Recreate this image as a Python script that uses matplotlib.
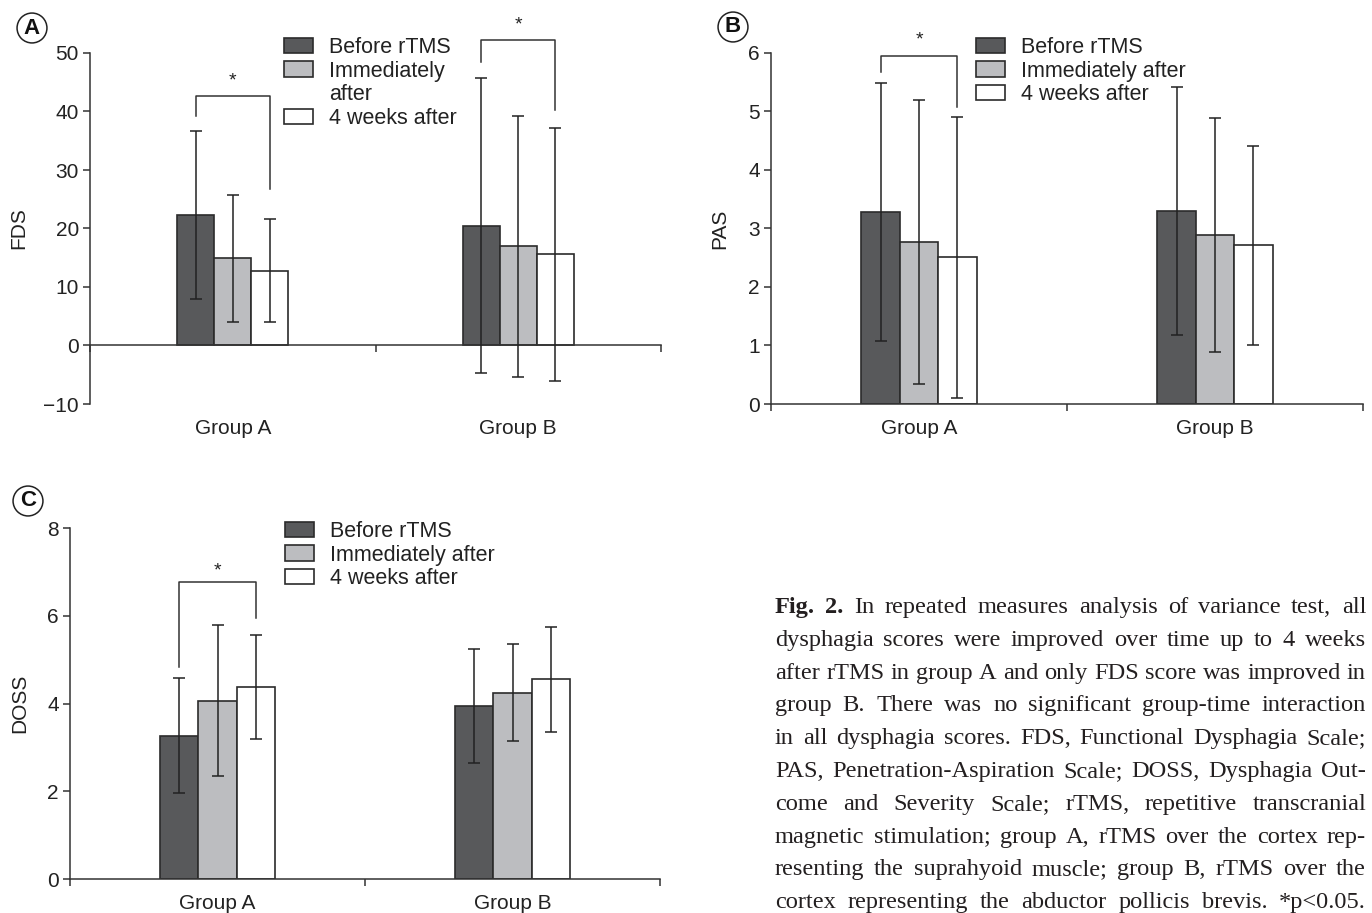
import numpy as np
import matplotlib
matplotlib.use('Agg')
import matplotlib.pyplot as plt
from matplotlib.patches import Rectangle

plt.rcParams['font.family'] = ['Liberation Sans', 'DejaVu Sans']

W, H = 1372, 913

# data (mean, SD)
conditions = ['Before rTMS', 'Immediately after', '4 weeks after']
groups = ['Group A', 'Group B']

fds_a = [22.3, 14.9, 12.8]
fds_a_sd = [14.4, 10.8, 8.8]
fds_b = [20.5, 17.0, 15.6]
fds_b_sd = [25.2, 22.3, 21.6]

pas_a = [3.28, 2.77, 2.51]
pas_a_sd = [2.20, 2.42, 2.40]
pas_b = [3.30, 2.88, 2.71]
pas_b_sd = [2.12, 2.00, 1.70]

doss_a = [3.26, 4.06, 4.37]
doss_a_sd = [1.31, 1.72, 1.19]
doss_b = [3.95, 4.25, 4.55]
doss_b_sd = [1.30, 1.10, 1.20]

# significance brackets: (group index, top, left leg end, right leg end)
fds_sig = [(0, 42.7, 39.2, 26.8), (1, 52.2, 48.4, 40.3)]
pas_sig = [(0, 5.94, 5.67, 5.08)]
doss_sig = [(0, 6.76, 4.83, 5.96)]

caption = [
    "Fig. 2. In repeated measures analysis of variance test, all",
    "dysphagia scores were improved over time up to 4 weeks",
    "after rTMS in group A and only FDS score was improved in",
    "group B. There was no significant group-time interaction",
    "in all dysphagia scores. FDS, Functional Dysphagia Scale;",
    "PAS, Penetration-Aspiration Scale; DOSS, Dysphagia Out-",
    "come and Severity Scale; rTMS, repetitive transcranial",
    "magnetic stimulation; group A, rTMS over the cortex rep-",
    "resenting the suprahyoid muscle; group B, rTMS over the",
    "cortex representing the abductor pollicis brevis. *p<0.05.",
]

bar_colors = ['#58595b', '#bcbdc0', '#ffffff']
edge = '#2b2b2b'
bw = 0.13

fig = plt.figure(figsize=(W / 100, H / 100), dpi=100)


def px_axes(left, top, right, bottom):
    return fig.add_axes([left / W, 1 - bottom / H, (right - left) / W, (bottom - top) / H])


def draw_panel(rect, vals, sds, ylim, yticks, ylabel, ylabel_px, sig, star_off):
    ax = px_axes(*rect)
    centers = np.array([0.5, 1.5])
    for i in range(3):
        m = [vals[0][i], vals[1][i]]
        s = [sds[0][i], sds[1][i]]
        x = centers + (i - 1) * bw
        ax.bar(x, m, width=bw, color=bar_colors[i], edgecolor=edge, linewidth=1.2, zorder=2)
        ax.errorbar(x, m, yerr=s, fmt='none', ecolor='#222222', elinewidth=1.1,
                    capsize=4.5, capthick=1.1, zorder=3, clip_on=False)
    ax.set_xlim(0, 2)
    ax.set_ylim(*ylim)
    ax.set_yticks(yticks)
    ax.set_yticklabels([str(t).replace('-', '\u2212') for t in yticks])
    ax.set_xticks([0, 1, 2])
    ax.set_xticklabels([])
    for sp in ['top', 'right']:
        ax.spines[sp].set_visible(False)
    ax.spines['bottom'].set_position(('data', 0))
    ax.spines['left'].set_bounds(ylim[0], ylim[1])
    for sp in ['bottom', 'left']:
        ax.spines[sp].set_color('#333333')
        ax.spines[sp].set_linewidth(1.1)
    ax.tick_params(axis='both', direction='out', length=5, width=1.1, color='#333333',
                   labelsize=15, labelcolor='#222222')
    ax.tick_params(axis='y', pad=3)
    ax.set_ylabel(ylabel, fontsize=15, color='#222222')
    ax.yaxis.set_label_coords((ylabel_px - rect[0]) / (rect[2] - rect[0]), 0.5)
    ax.patch.set_visible(False)
    for g, c in enumerate(centers):
        ax.annotate(groups[g], xy=(c, 0), xycoords=('data', 'axes fraction'),
                    xytext=(0, -17.5), textcoords='offset points',
                    ha='center', va='center', fontsize=15, color='#222222')
    for g, top, yl, yr in sig:
        x0 = centers[g] - bw
        x1 = centers[g] + bw
        ax.plot([x0, x0, x1, x1], [yl, top, top, yr], color='#333333', lw=1.1,
                clip_on=False, zorder=4)
        ax.text((x0 + x1) / 2, top + star_off, '*', ha='center', va='center',
                fontsize=14, color='#222222', clip_on=False)
    return ax


draw_panel((90, 53, 661, 404), [fds_a, fds_b], [fds_a_sd, fds_b_sd], (-10, 50),
           [-10, 0, 10, 20, 30, 40, 50], 'FDS', 28, fds_sig, 2.6)
draw_panel((771, 52.7, 1363, 404), [pas_a, pas_b], [pas_a_sd, pas_b_sd], (0, 6),
           [0, 1, 2, 3, 4, 5, 6], 'PAS', 729, pas_sig, 0.27)
draw_panel((70, 528, 660, 879), [doss_a, doss_b], [doss_a_sd, doss_b_sd], (0, 8),
           [0, 2, 4, 6, 8], 'DOSS', 29, doss_sig, 0.27)

# legends
handles = [Rectangle((0, 0), 1, 1, facecolor=c, edgecolor=edge, linewidth=1.2) for c in bar_colors]
blank = Rectangle((0, 0), 1, 1, facecolor='none', edgecolor='none')
leg_kw = dict(loc='upper left', frameon=False, fontsize=15.5, handlelength=1.35,
              handleheight=0.72, handletextpad=0.75, labelspacing=0.12,
              borderpad=0, borderaxespad=0, labelcolor='#222222')
fig.legend([handles[0], handles[1], blank, handles[2]],
           ['Before rTMS', 'Immediately', 'after', '4 weeks after'],
           bbox_to_anchor=(284 / W, 1 - 37 / H), **leg_kw)
fig.legend(handles, conditions, bbox_to_anchor=(976 / W, 1 - 37 / H), **leg_kw)
fig.legend(handles, conditions, bbox_to_anchor=(285 / W, 1 - 521 / H), **leg_kw)

# circled panel letters
for lab, x, y in [('A', 32, 28), ('B', 733, 27), ('C', 28, 501)]:
    fig.text(x / W, 1 - y / H, lab, ha='center', va='center', fontsize=16,
             fontweight='bold', color='#111111',
             bbox=dict(boxstyle='circle,pad=0.2', fc='white', ec='#222222', lw=1.1))

# justified caption, font size fitted to the column width
cap_x0, cap_x1 = 775, 1366
cap_y0, cap_dy = 613, 32.8
cap_font = 'Liberation Serif'
renderer = fig.canvas.get_renderer()
probe = fig.text(0, 0, '', fontsize=10, family=cap_font)
widest = 0
for line in caption:
    probe.set_text(line)
    widest = max(widest, probe.get_window_extent(renderer).width)
probe.remove()
cap_size = 10 * (cap_x1 - cap_x0) * 0.99 / widest

for i, line in enumerate(caption):
    words = line.split()
    texts = []
    for j, w in enumerate(words):
        bold = (i == 0 and j < 2)
        texts.append(fig.text(0, 0, w, fontsize=cap_size, family=cap_font,
                              fontweight='bold' if bold else 'normal',
                              color='#231f20', va='baseline', ha='left'))
    widths = [t.get_window_extent(renderer).width for t in texts]
    gap = (cap_x1 - cap_x0 - sum(widths)) / (len(words) - 1)
    x = cap_x0
    y = cap_y0 + i * cap_dy
    for t, w in zip(texts, widths):
        t.set_position((x / W, 1 - y / H))
        x += w + gap

fig.savefig('out.png', dpi=100)
